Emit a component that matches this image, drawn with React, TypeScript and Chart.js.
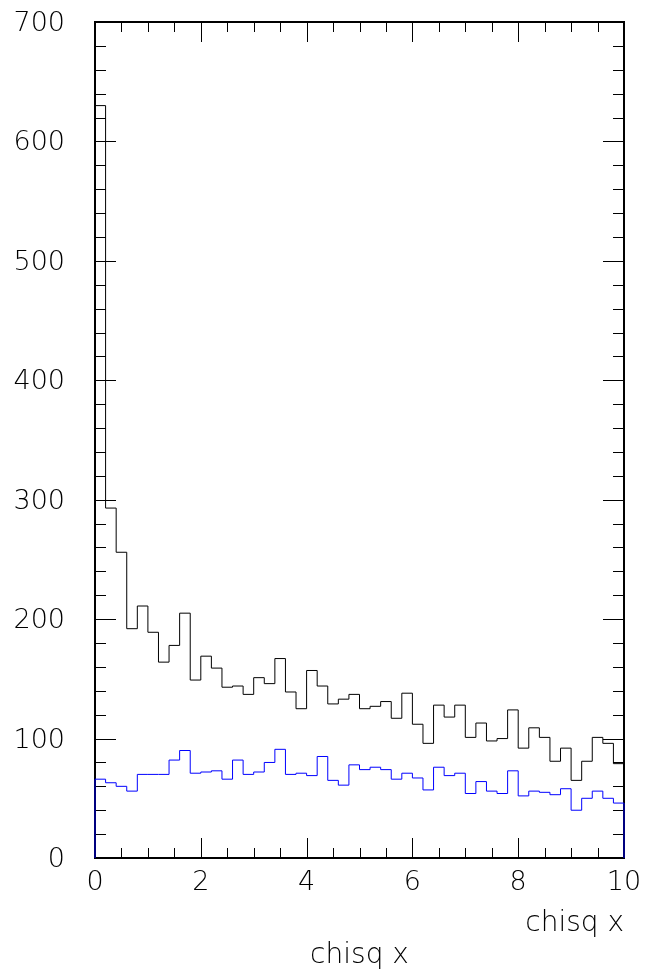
import React, { useEffect, useRef } from "react";
import { Chart, registerables } from "chart.js";

Chart.register(...registerables);

// ---- data ----
const binLowEdges = [
  0, 0.2, 0.4, 0.6, 0.8, 1.0, 1.2, 1.4, 1.6, 1.8,
  2.0, 2.2, 2.4, 2.6, 2.8, 3.0, 3.2, 3.4, 3.6, 3.8,
  4.0, 4.2, 4.4, 4.6, 4.8, 5.0, 5.2, 5.4, 5.6, 5.8,
  6.0, 6.2, 6.4, 6.6, 6.8, 7.0, 7.2, 7.4, 7.6, 7.8,
  8.0, 8.2, 8.4, 8.6, 8.8, 9.0, 9.2, 9.4, 9.6, 9.8,
];
const xUpperEdge = 10;

const blackCounts = [
  630, 293, 256, 192, 211, 189, 164, 178, 205, 149,
  169, 159, 143, 144, 137, 151, 146, 167, 139, 125,
  157, 144, 129, 133, 137, 125, 127, 131, 117, 138,
  112, 96, 128, 118, 128, 101, 113, 98, 100, 124,
  92, 109, 101, 81, 92, 65, 81, 101, 96, 79,
];

const blueCounts = [
  66, 63, 60, 56, 70, 70, 70, 82, 90, 71,
  72, 73, 66, 82, 70, 72, 80, 91, 70, 71,
  69, 85, 65, 61, 78, 74, 76, 74, 66, 71,
  67, 57, 76, 69, 71, 54, 64, 56, 54, 73,
  52, 56, 55, 53, 58, 40, 50, 56, 50, 46,
];

const xTickLabels = [0, 2, 4, 6, 8, 10];
const yTickLabels = [0, 100, 200, 300, 400, 500, 600, 700];
const xAxisTitle = "chisq x";
const bottomTitle = "chisq x";

// ---- style constants ----
const X_MINOR_STEP = 0.5;
const Y_MINOR_STEP = 20;
const FONT_FAMILY = "'DejaVu Sans', 'Liberation Sans', sans-serif";
const FONT_WEIGHT = "200";

function histPoints(counts: number[]) {
  const pts = [{ x: binLowEdges[0], y: 0 }];
  counts.forEach((c, i) => pts.push({ x: binLowEdges[i], y: c }));
  pts.push({ x: xUpperEdge, y: counts[counts.length - 1] });
  pts.push({ x: xUpperEdge, y: 0 });
  return pts;
}

function zeroScalePadding(s: any) {
  s.paddingTop = 0;
  s.paddingBottom = 0;
  s.paddingLeft = 0;
  s.paddingRight = 0;
}

const rootFramePlugin = {
  id: "rootFrame",
  beforeDatasetsDraw(chart: any) {
    const { ctx, chartArea: a, scales } = chart;
    const xs = scales.x;
    const ys = scales.y;
    ctx.save();
    ctx.strokeStyle = "#000";
    ctx.lineWidth = 1;
    // y ticks (left & right, pointing inwards)
    const yMin = yTickLabels[0];
    const yMax = yTickLabels[yTickLabels.length - 1];
    const nY = Math.round((yMax - yMin) / Y_MINOR_STEP);
    for (let i = 0; i <= nY; i++) {
      const v = yMin + i * Y_MINOR_STEP;
      const major = yTickLabels.includes(v);
      const len = major ? 21 : 11;
      const py = Math.round(ys.getPixelForValue(v)) + 0.5;
      ctx.beginPath();
      ctx.moveTo(a.left, py);
      ctx.lineTo(a.left + len, py);
      ctx.moveTo(a.right, py);
      ctx.lineTo(a.right - len, py);
      ctx.stroke();
    }
    // x ticks (bottom & top, pointing inwards)
    const xMin = xTickLabels[0];
    const xMax = xTickLabels[xTickLabels.length - 1];
    const nX = Math.round((xMax - xMin) / X_MINOR_STEP);
    for (let i = 0; i <= nX; i++) {
      const v = xMin + i * X_MINOR_STEP;
      const major = xTickLabels.includes(v);
      const len = major ? 20 : 10;
      const px = Math.round(xs.getPixelForValue(v)) + 0.5;
      ctx.beginPath();
      ctx.moveTo(px, a.bottom);
      ctx.lineTo(px, a.bottom - len);
      ctx.moveTo(px, a.top);
      ctx.lineTo(px, a.top + len);
      ctx.stroke();
    }
    // frame
    ctx.lineWidth = 2;
    ctx.strokeRect(a.left, a.top, a.right - a.left, a.bottom - a.top);
    ctx.restore();
  },
  afterDraw(chart: any) {
    const { ctx, chartArea: a } = chart;
    ctx.save();
    ctx.fillStyle = "#000";
    ctx.font = `${FONT_WEIGHT} 28px ${FONT_FAMILY}`;
    ctx.textAlign = "center";
    ctx.textBaseline = "alphabetic";
    ctx.fillText(bottomTitle, (a.left + a.right) / 2, 963);
    ctx.restore();
  },
};

export default function App() {
  const canvasRef = useRef<HTMLCanvasElement | null>(null);

  useEffect(() => {
    const canvas = canvasRef.current;
    if (!canvas) return;
    const tickFont = { family: FONT_FAMILY, size: 27, weight: FONT_WEIGHT as any };
    const chart = new Chart(canvas, {
      type: "line",
      data: {
        datasets: [
          {
            label: "blue",
            data: histPoints(blueCounts),
            borderColor: "#0000ff",
            borderWidth: 1,
            pointRadius: 0,
            fill: false,
            stepped: "before",
            tension: 0,
            clip: false as any,
          },
          {
            label: "black",
            data: histPoints(blackCounts),
            borderColor: "#000000",
            borderWidth: 1,
            pointRadius: 0,
            fill: false,
            stepped: "before",
            tension: 0,
            clip: false as any,
          },
        ],
      },
      options: {
        animation: false,
        responsive: false,
        devicePixelRatio: 1,
        parsing: false,
        normalized: true,
        events: [],
        layout: { padding: { top: 22, right: 22, bottom: 0, left: 0 } },
        plugins: {
          legend: { display: false },
          tooltip: { enabled: false },
          title: { display: false },
        },
        scales: {
          x: {
            type: "linear",
            min: xTickLabels[0],
            max: xTickLabels[xTickLabels.length - 1],
            grid: { display: false, drawTicks: false },
            border: { display: false },
            afterBuildTicks: (s: any) => {
              s.ticks = xTickLabels.map((v) => ({ value: v }));
            },
            afterFit: (s: any) => {
              s.height = 113;
              zeroScalePadding(s);
            },
            ticks: {
              color: "#000",
              font: tickFont,
              padding: 9,
              maxRotation: 0,
              autoSkip: false,
              callback: (v: any) => String(v),
            },
            title: {
              display: true,
              text: xAxisTitle,
              align: "end",
              color: "#000",
              font: { family: FONT_FAMILY, size: 28, weight: FONT_WEIGHT as any },
              padding: { top: 0, bottom: 30 },
            },
          },
          y: {
            type: "linear",
            min: yTickLabels[0],
            max: yTickLabels[yTickLabels.length - 1],
            grid: { display: false, drawTicks: false },
            border: { display: false },
            afterBuildTicks: (s: any) => {
              s.ticks = yTickLabels.map((v) => ({ value: v }));
            },
            afterFit: (s: any) => {
              s.width = 95;
              zeroScalePadding(s);
            },
            ticks: {
              color: "#000",
              font: tickFont,
              padding: 30,
              labelOffset: 2,
              autoSkip: false,
              callback: (v: any) => String(v),
            },
          },
        },
      },
      plugins: [rootFramePlugin],
    });
    return () => chart.destroy();
  }, []);

  return (
    <div
      style={{
        position: "absolute",
        left: 0,
        top: 0,
        width: 646,
        height: 971,
        background: "#fff",
      }}
    >
      <canvas
        ref={canvasRef}
        width={646}
        height={971}
        style={{ display: "block", width: 646, height: 971 }}
      />
    </div>
  );
}
